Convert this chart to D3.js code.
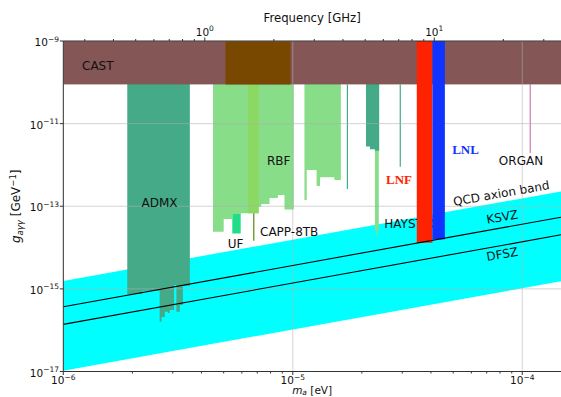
<!DOCTYPE html>
<html>
<head>
<meta charset="utf-8">
<script src="https://cdn.jsdelivr.net/npm/d3@7"></script>
<style>
  body { margin: 0; background: #fff; }
  svg { display: block; }
  text { font-family: "DejaVu Sans", sans-serif; }
</style>
</head>
<body>
<svg id="chart" width="561" height="397"></svg>
<script>
// ---- axis ranges (mass in eV, coupling in GeV^-1) ----
const massDomain = [1e-6, 1.475e-4];
const couplingDomain = [1e-17, 1e-9];
const massTickExponents = [-6, -5, -4];
const couplingTickExponents = [-17, -15, -13, -11, -9];
const freqTickExponents = [0, 1];
const eVtoGHz = 2.418e5;

// ---- QCD axion band and benchmark models ----
const bandMass = [1e-6, 1.475e-4];
const bandUpper = [1.55e-15, 2.29e-13];
const bandLower = [1.04e-17, 1.53e-15];
const modelMass = [1e-6, 1.475e-4];
const ksvzCoupling = [3.69e-16, 5.44e-14];
const dfszCoupling = [1.38e-16, 2.04e-14];

// ---- helioscope ----
const castLimit = 8.9e-11;
const brownMass = [5.09e-6, 9.77e-6];

// ---- haloscope exclusions: bin edges in mass, lower limit per bin ----
const admxMass = [1.90e-6, 2.21e-6, 2.63e-6, 2.68e-6, 2.77e-6, 2.86e-6, 2.91e-6, 3.04e-6, 3.11e-6, 3.22e-6, 3.32e-6, 3.56e-6];
const admxLimit = [7.5e-16, 9.0e-16, 1.6e-16, 2.1e-16, 2.8e-16, 2.6e-16, 3.07e-16, 1.24e-15, 2.8e-16, 4.05e-16, 1.17e-15];

const rbfMass = [4.49e-6, 5.00e-6, 5.45e-6, 5.93e-6, 6.37e-6, 7.10e-6, 7.29e-6, 7.92e-6, 8.61e-6, 9.20e-6, 1.01e-5];
const rbfLimit = [2.41e-14, 4.9e-14, 6.47e-14, 6.73e-14, 6.73e-14, 9.7e-14, 1.13e-13, 1.58e-13, 1.87e-13, 8.4e-14];

const rbf2Mass = [1.124e-5, 1.15e-5, 1.27e-5, 1.315e-5, 1.518e-5, 1.62e-5];
const rbf2Limit = [1.41e-13, 7.5e-13, 3.08e-13, 5.0e-13, 4.3e-13];

const ufMass = [5.45e-6, 5.93e-6];
const ufLimit = [2.2e-14];

const cappMass = [6.37e-6, 7.10e-6];
const cappLimit = [6.73e-14];

const capp8tbMass = 6.76e-6;
const capp8tbRange = [6.8e-14, 1.46e-14];

const haystacMass = [2.085e-5, 2.17e-5, 2.28e-5, 2.38e-5];
const haystacLimit = [2.8e-12, 2.4e-12, 2.2e-12];
const haystacTailMass = [2.28e-5, 2.31e-5, 2.335e-5, 2.37e-5];
const haystacTailLimit = [2.5e-14, 1.8e-14, 2.6e-14];

const narrowScanMass = [1.73e-5, 2.94e-5];
const narrowScanLimit = [2.6e-13, 9.0e-13];

const organMass = 1.083e-4;
const organLimit = 1.94e-12;

const lnfMass = [3.47e-5, 4.06e-5];
const lnfLimit = 1.31e-14;
const lnlMass = [4.06e-5, 4.60e-5];
const lnlLimit = 1.58e-14;

const colors = {
  cast: "#845656", brown: "#794800", admx: "#44aa88", rbf: "#88dd88",
  capp: "#8bd862", uf: "#22dd88", band: "#00ffff", lnf: "#ff2200",
  lnl: "#1133ff", organ: "#c060a0", capp8tb: "#6b8e23", axis: "#333"
};

// ---- layout ----
const plot = { left: 63.3, right: 561, top: 41, bottom: 371.5 };
const svg = d3.select("#chart");

const x = d3.scaleLog().domain(massDomain).range([plot.left, plot.right]);
const y = d3.scaleLog().domain(couplingDomain).range([plot.bottom, plot.top]);
const xf = d3.scaleLog().domain(massDomain.map(m => m * eVtoGHz)).range([plot.left, plot.right]);

svg.append("defs").append("clipPath").attr("id", "plotClip")
  .append("rect").attr("x", plot.left).attr("y", plot.top)
  .attr("width", plot.right - plot.left).attr("height", plot.bottom - plot.top);

const g = svg.append("g").attr("clip-path", "url(#plotClip)");

function stepPoints(edges, limits) {
  const pts = [];
  limits.forEach((v, i) => { pts.push([edges[i], v]); pts.push([edges[i + 1], v]); });
  return pts;
}
const stepArea = top => d3.area().x(d => x(d[0])).y0(d => y(d[1])).y1(() => y(top));

function region(edges, limits, color, top = couplingDomain[1]) {
  g.append("path").attr("d", stepArea(top)(stepPoints(edges, limits))).attr("fill", color);
}

const label = (parent, txt, px, py, anchor = "start", extra = {}) => {
  const t = parent.append("text").attr("x", px).attr("y", py).attr("text-anchor", anchor)
    .attr("font-size", extra.size || 12).attr("fill", extra.fill || "#111").text(txt);
  if (extra.family) t.style("font-family", extra.family);
  if (extra.weight) t.attr("font-weight", extra.weight);
  if (extra.rotate !== undefined) t.attr("transform", `rotate(${extra.rotate},${px},${py})`);
  return t;
};

// QCD axion band
const bandData = bandMass.map((m, i) => ({ m, hi: bandUpper[i], lo: bandLower[i] }));
g.append("path")
  .attr("d", d3.area().x(d => x(d.m)).y0(d => y(d.lo)).y1(d => y(d.hi))(bandData))
  .attr("fill", colors.band);

// haloscope regions
region(ufMass, ufLimit, colors.uf);
region(rbfMass, rbfLimit, colors.rbf);
region(rbf2Mass, rbf2Limit, colors.rbf);
region(cappMass, cappLimit, colors.capp);
region(admxMass, admxLimit, colors.admx);
region(haystacTailMass, haystacTailLimit, colors.rbf);
region(haystacMass, haystacLimit, colors.admx);

narrowScanMass.forEach((m, i) => {
  g.append("line").attr("x1", x(m)).attr("x2", x(m))
    .attr("y1", y(castLimit)).attr("y2", y(narrowScanLimit[i]))
    .attr("stroke", colors.admx).attr("stroke-width", 1.2);
});
g.append("line").attr("x1", x(capp8tbMass)).attr("x2", x(capp8tbMass))
  .attr("y1", y(capp8tbRange[0])).attr("y2", y(capp8tbRange[1]))
  .attr("stroke", colors.capp8tb).attr("stroke-width", 1.3);
g.append("line").attr("x1", x(organMass)).attr("x2", x(organMass))
  .attr("y1", y(castLimit)).attr("y2", y(organLimit))
  .attr("stroke", colors.organ).attr("stroke-width", 1);

// CAST and the brown band across its top
g.append("rect").attr("x", plot.left).attr("y", y(couplingDomain[1]))
  .attr("width", plot.right - plot.left).attr("height", y(castLimit) - y(couplingDomain[1]))
  .attr("fill", colors.cast);
g.append("rect").attr("x", x(brownMass[0])).attr("y", y(couplingDomain[1]))
  .attr("width", x(brownMass[1]) - x(brownMass[0])).attr("height", y(castLimit) - y(couplingDomain[1]))
  .attr("fill", colors.brown);

// grid
const grid = g.append("g").attr("stroke", "#b0b0b0").attr("stroke-opacity", 0.55).attr("stroke-width", 1);
massTickExponents.forEach(e => {
  grid.append("line").attr("x1", x(10 ** e)).attr("x2", x(10 ** e)).attr("y1", plot.top).attr("y2", plot.bottom);
});
couplingTickExponents.forEach(e => {
  grid.append("line").attr("y1", y(10 ** e)).attr("y2", y(10 ** e)).attr("x1", plot.left).attr("x2", plot.right);
});

// HAYSTAC label sits beneath the LNF column
label(g, "HAYSTAC", 384.3, 228.4);

// LNF and LNL columns
g.append("rect").attr("x", x(lnfMass[0])).attr("y", y(couplingDomain[1]))
  .attr("width", x(lnfMass[1]) - x(lnfMass[0])).attr("height", y(lnfLimit) - y(couplingDomain[1]))
  .attr("fill", colors.lnf);
g.append("rect").attr("x", x(lnlMass[0])).attr("y", y(couplingDomain[1]))
  .attr("width", x(lnlMass[1]) - x(lnlMass[0])).attr("height", y(lnlLimit) - y(couplingDomain[1]))
  .attr("fill", colors.lnl);

// KSVZ and DFSZ lines
[ksvzCoupling, dfszCoupling].forEach(c => {
  g.append("path")
    .attr("d", d3.line().x(d => x(d[0])).y(d => y(d[1]))(modelMass.map((m, i) => [m, c[i]])))
    .attr("stroke", "#000").attr("stroke-width", 1.1).attr("fill", "none");
});

// ---- axes ----
const ax = svg.append("g").attr("stroke", colors.axis);
ax.append("line").attr("x1", plot.left).attr("x2", plot.right).attr("y1", plot.bottom).attr("y2", plot.bottom);
ax.append("line").attr("x1", plot.left).attr("x2", plot.right).attr("y1", plot.top).attr("y2", plot.top);
ax.append("line").attr("x1", plot.left).attr("x2", plot.left).attr("y1", plot.top).attr("y2", plot.bottom);

// bottom ticks
const minorMass = [];
for (let e = -6; e <= -4; e++) for (let k = 2; k <= 9; k++) {
  const v = k * 10 ** e; if (v <= massDomain[1]) minorMass.push(v);
}
minorMass.forEach(v => ax.append("line").attr("x1", x(v)).attr("x2", x(v)).attr("y1", plot.bottom).attr("y2", plot.bottom + 2));
massTickExponents.forEach(e => ax.append("line").attr("x1", x(10 ** e)).attr("x2", x(10 ** e)).attr("y1", plot.bottom).attr("y2", plot.bottom + 3.5));

// top ticks (frequency)
const minorFreq = [];
for (let e = -1; e <= 1; e++) for (let k = 2; k <= 9; k++) {
  const v = k * 10 ** e; const d = xf.domain(); if (v >= d[0] && v <= d[1]) minorFreq.push(v);
}
minorFreq.forEach(v => ax.append("line").attr("x1", xf(v)).attr("x2", xf(v)).attr("y1", plot.top).attr("y2", plot.top - 2));
freqTickExponents.forEach(e => ax.append("line").attr("x1", xf(10 ** e)).attr("x2", xf(10 ** e)).attr("y1", plot.top).attr("y2", plot.top - 3.5));

// left ticks
couplingTickExponents.forEach(e => ax.append("line").attr("y1", y(10 ** e)).attr("y2", y(10 ** e)).attr("x1", plot.left).attr("x2", plot.left - 3.5));

function powerLabel(px, py, exp, anchor) {
  const t = svg.append("text").attr("x", px).attr("y", py).attr("text-anchor", anchor)
    .attr("font-size", 10.5).attr("fill", "#111");
  t.append("tspan").text("10");
  t.append("tspan").attr("dy", -4.5).attr("font-size", 7.5).text(exp < 0 ? "\u2212" + (-exp) : String(exp));
}
massTickExponents.forEach(e => powerLabel(x(10 ** e), 384, e, "middle"));
couplingTickExponents.forEach(e => powerLabel(59, y(10 ** e) + 5, e, "end"));
freqTickExponents.forEach(e => powerLabel(xf(10 ** e), 35.5, e, "middle"));

// axis titles
label(svg, "Frequency [GHz]", (plot.left + plot.right) / 2, 22, "middle", { size: 11.7 });

const xt = svg.append("text").attr("x", (plot.left + plot.right) / 2).attr("y", 394.3)
  .attr("text-anchor", "middle").attr("font-size", 10.5).attr("fill", "#111");
xt.append("tspan").attr("font-style", "italic").text("m");
xt.append("tspan").attr("font-size", 7.5).attr("dy", 1).attr("font-style", "italic").text("a");
xt.append("tspan").attr("dy", -1).text(" [eV]");

const yt = svg.append("text").attr("transform", `translate(20,${(plot.top + plot.bottom) / 2}) rotate(-90)`)
  .attr("text-anchor", "middle").attr("font-size", 12).attr("fill", "#111");
yt.append("tspan").attr("font-style", "italic").text("g");
yt.append("tspan").attr("font-size", 8.5).attr("dy", 2.5).attr("font-style", "italic").text("a\u03b3\u03b3");
yt.append("tspan").attr("dy", -2.5).text(" [GeV");
yt.append("tspan").attr("font-size", 8.5).attr("dy", -4.5).text("\u22121");
yt.append("tspan").attr("dy", 4.5).text("]");

// region labels
label(svg, "CAST", 82, 69.7);
label(svg, "ADMX", 159.5, 206.7, "middle");
label(svg, "RBF", 278.7, 165, "middle");
label(svg, "UF", 235.5, 247.7, "middle");
label(svg, "CAPP-8TB", 260, 236);
label(svg, "ORGAN", 521, 165.4, "middle");
label(svg, "LNF", 399, 183.6, "middle", { family: "'Liberation Serif', serif", weight: "bold", fill: colors.lnf, size: 13 });
label(svg, "LNL", 465.5, 154.3, "middle", { family: "'Liberation Serif', serif", weight: "bold", fill: colors.lnl, size: 13 });
label(svg, "QCD axion band", 502, 197.5, "middle", { rotate: -10 });
label(svg, "KSVZ", 503, 221, "middle", { rotate: -10 });
label(svg, "DFSZ", 503, 258.3, "middle", { rotate: -10 });
</script>
</body>
</html>
